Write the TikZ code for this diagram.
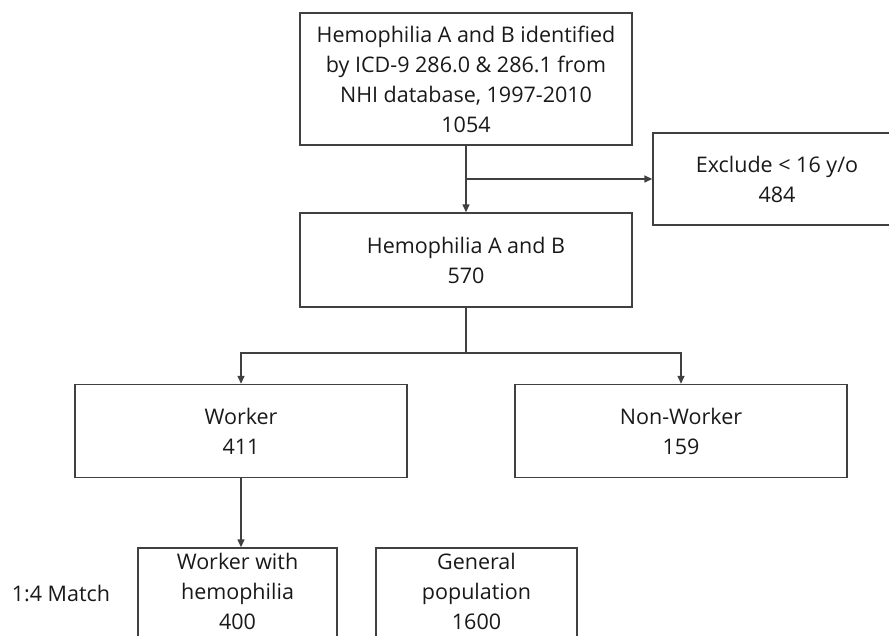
\documentclass[tikz,border=0pt]{standalone}
\usepackage{fontspec}
\setmainfont{Open Sans}
\usetikzlibrary{arrows.meta}

\begin{document}
\begin{tikzpicture}[x=1pt,y=-1pt]
                  \tikzset{box/.style = {draw = black!75, line width = 1.4pt, align = center,
                                         text = black!90, inner sep = 0pt,
                                         font = \fontsize{21.5}{30}\selectfont},
                           link/.style = {draw = black!75, line width = 1.4pt},
                           arr/.style = {link, -{Triangle[length = 8pt, width = 7pt]}}}
                  \clip (0,0) rectangle (889,636);
                  % boxes
                  \node[box, minimum width = 332pt, minimum height = 132pt] (ident) at (466,79)
                       {Hemophilia A and B identified\\ by ICD-9 286.0 \& 286.1 from\\ NHI database, 1997-2010\\ 1054};
                  \node[box, minimum width = 248pt, minimum height = 92pt] (excl) at (777,179)
                       {Exclude < 16 y/o\\ 484};
                  \node[box, minimum width = 332pt, minimum height = 94pt] (hemo) at (466,260)
                       {Hemophilia A and B\\ 570};
                  \node[box, minimum width = 332pt, minimum height = 93pt] (worker) at (241,431)
                       {Worker\\ 411};
                  \node[box, minimum width = 332pt, minimum height = 93pt] (nonworker) at (681,431)
                       {Non-Worker\\ 159};
                  \node[box, text depth = 6pt, minimum width = 199pt, minimum height = 92pt] (whw) at (237.5,594)
                       {Worker with\\ hemophilia\\ 400};
                  \node[box, text depth = 6pt, minimum width = 201pt, minimum height = 92pt] (genpop) at (476.5,594)
                       {General\\ population\\ 1600};
                  \node[font = \fontsize{21.5}{30}\selectfont, text = black!90] (match) at (61,593) {1:4 Match};
                  % connectors
                  \coordinate (split) at (466,353);
                  \draw[arr] (ident) -- (hemo);
                  \draw[arr] (ident.south |- excl.west) -- (excl.west);
                  \draw[link] (hemo) -- (split);
                  \draw[arr] (split) -| (worker);
                  \draw[arr] (split) -| (nonworker);
                  \draw[arr] (worker.south) -- (worker.south |- whw.north);
              \end{tikzpicture}
\end{document}
